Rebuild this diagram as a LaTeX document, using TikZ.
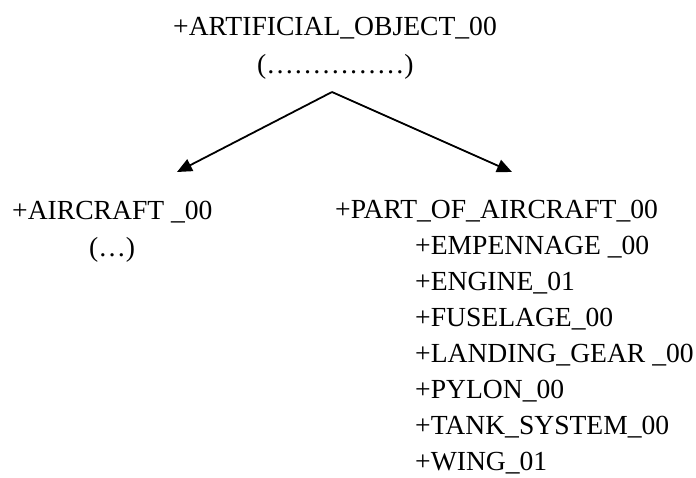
\documentclass[tikz,border=0pt]{standalone}
\usepackage{fontspec}
\setmainfont{Liberation Serif}
\usetikzlibrary{arrows.meta}
\begin{document}
\begin{tikzpicture}[x=1pt,y=-1pt,
  lbl/.style={anchor=base west, inner sep=0pt, font=\fontsize{27.6}{36}\selectfont},
  arr/.style={line width=1.8pt, -{Triangle[length=15pt,width=13pt]}}]
\useasboundingbox[fill=white] (0,0) rectangle (696,477);
\node[lbl] (root) at (173,35) {+ARTIFICIAL\_OBJECT\_00};
\node[lbl] (rootsub) at (257,73) {(……………)};
\coordinate (apex) at (332,92);
\coordinate (ltip) at (177,172);
\coordinate (rtip) at (512,172);
\draw[arr] (apex) -- (ltip);
\draw[arr] (apex) -- (rtip);
\node[lbl] (aircraft) at (12,219) {+AIRCRAFT \_00};
\node[lbl] (aircraftsub) at (89,256) {(…)};
\node[lbl] (part) at (335,218) {+PART\_OF\_AIRCRAFT\_00};
\node[lbl] (p1) at (415,254) {+EMPENNAGE \_00};
\node[lbl] (p2) at (415,290) {+ENGINE\_01};
\node[lbl] (p3) at (415,326) {+FUSELAGE\_00};
\node[lbl] (p4) at (415,362) {+LANDING\_GEAR \_00};
\node[lbl] (p5) at (415,398) {+PYLON\_00};
\node[lbl] (p6) at (415,434) {+TANK\_SYSTEM\_00};
\node[lbl] (p7) at (415,470) {+WING\_01};
\end{tikzpicture}
\end{document}
